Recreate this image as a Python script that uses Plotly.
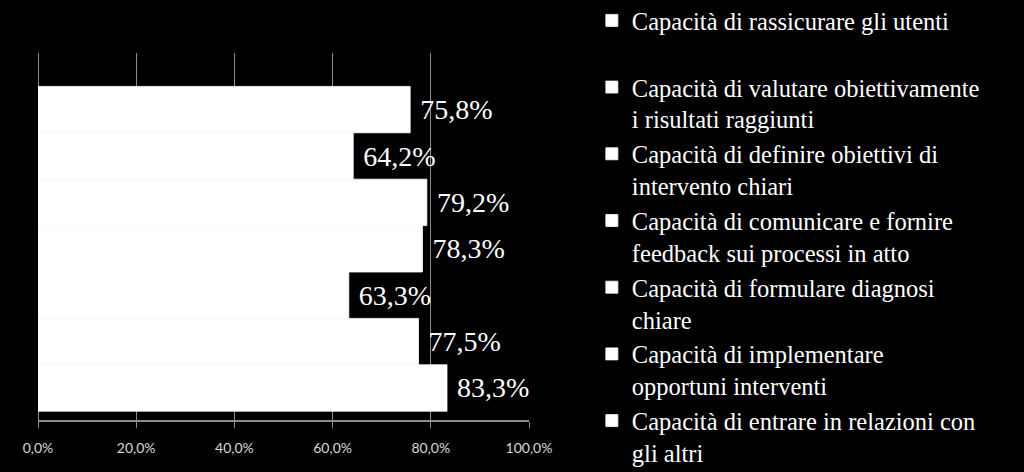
import plotly.graph_objects as go

categories = [
    "Capacità di rassicurare gli utenti",
    "Capacità di valutare obiettivamente i risultati raggiunti",
    "Capacità di definire obiettivi di intervento chiari",
    "Capacità di comunicare e fornire feedback sui processi in atto",
    "Capacità di formulare diagnosi chiare",
    "Capacità di implementare opportuni interventi",
    "Capacità di entrare in relazioni con gli altri",
]
legend_labels = [
    "Capacità di rassicurare gli utenti<br>&nbsp;",
    "Capacità di valutare obiettivamente<br>i risultati raggiunti",
    "Capacità di definire obiettivi di<br>intervento chiari",
    "Capacità di comunicare e fornire<br>feedback sui processi in atto",
    "Capacità di formulare diagnosi<br>chiare",
    "Capacità di implementare<br>opportuni interventi",
    "Capacità di entrare in relazioni con<br>gli altri",
]
values = [75.8, 64.2, 79.2, 78.3, 63.3, 77.5, 83.3]
x_ticks = [0, 20, 40, 60, 80, 100]
x_tick_text = [f"{t:.1f}%".replace(".", ",") for t in x_ticks]

fig = go.Figure()
for i, (cat, lab, v) in enumerate(zip(categories, legend_labels, values)):
    fig.add_trace(go.Bar(
        x=[v], y=[i], width=1, orientation="h", name=lab,
        marker=dict(color="white", line=dict(width=0.8, color="white")),
        texttemplate="&nbsp;%{x:.1f}%", textposition="outside",
        textfont=dict(family="Liberation Serif", size=28, color="white"),
        constraintext="none", cliponaxis=False,
        hovertext=cat,
    ))

fig.update_layout(
    width=1024, height=472,
    margin=dict(l=38, r=495, t=53, b=52, autoexpand=False),
    paper_bgcolor="black", plot_bgcolor="black",
    separators=",.",
    barmode="overlay",
    showlegend=True,
    legend=dict(
        x=1.128, y=1.15, xanchor="left", yanchor="top",
        font=dict(family="Liberation Serif", size=24.5, color="white"),
        bgcolor="rgba(0,0,0,0)", valign="top", traceorder="normal",
        tracegroupgap=0, maxheight=700,
    ),
    xaxis=dict(
        range=[0, 100], tickvals=x_ticks, ticktext=x_tick_text,
        showgrid=True, gridcolor="#8c8c8c", gridwidth=1,
        zeroline=True, zerolinecolor="#8c8c8c", zerolinewidth=1,
        showline=True, linecolor="#8c8c8c", linewidth=1.5,
        ticks="outside", ticklen=6, tickcolor="#8c8c8c",
        ticklabelstandoff=8,
        tickfont=dict(family="Lato", size=14, color="#d9d9d9"),
        fixedrange=True,
    ),
    yaxis=dict(
        range=[6.69, -1.22], showticklabels=False, showgrid=False,
        zeroline=False, showline=False, fixedrange=True,
    ),
)

fig.write_html("out.html")
